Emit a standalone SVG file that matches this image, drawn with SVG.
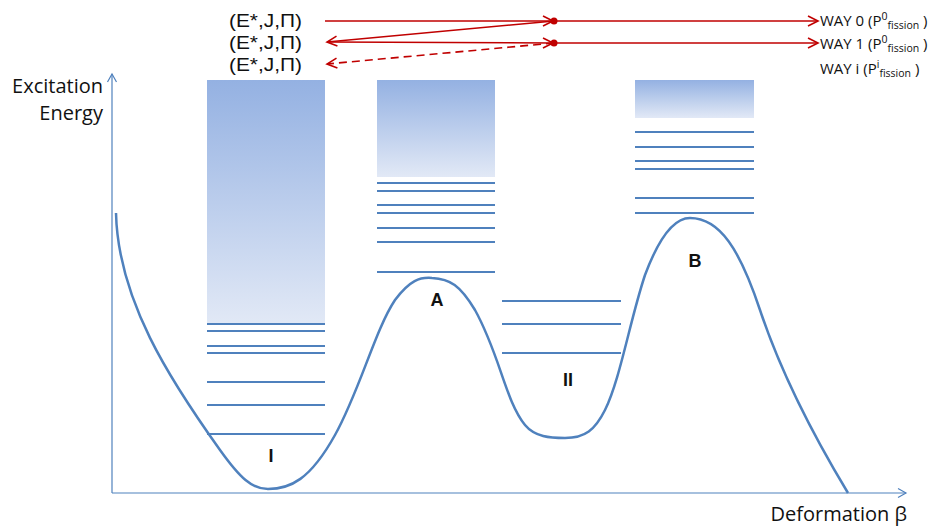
<svg xmlns="http://www.w3.org/2000/svg" width="932" height="526" viewBox="0 0 932 526">
<defs>
<linearGradient id="g" x1="0" y1="0" x2="0" y2="1">
<stop offset="0" stop-color="#94B1E2"/>
<stop offset="1" stop-color="#E2E9F6"/>
</linearGradient>
<marker id="ab" markerUnits="userSpaceOnUse" markerWidth="12" markerHeight="12" refX="9" refY="5" orient="auto" viewBox="0 0 12 10">
<path d="M1,0.5 L9,5 L1,9.5" fill="none" stroke="#4F81BD" stroke-width="1.2"/>
</marker>
<marker id="ar" markerUnits="userSpaceOnUse" markerWidth="14" markerHeight="14" refX="11" refY="6" orient="auto" viewBox="0 0 14 12">
<path d="M1,1 L11,6 L1,11" fill="none" stroke="#C00000" stroke-width="1.6"/>
</marker>
<style>
.lvl{stroke:#4F81BD;stroke-width:2;fill:none}
.red{stroke:#C00000;stroke-width:1.6;fill:none}
.t{font-family:"Open Sans","Liberation Sans",sans-serif;fill:#111}
.st{font-family:"Liberation Sans",sans-serif;font-size:18px;fill:#111}
.lab{font-family:"Liberation Sans",sans-serif;font-weight:bold;font-size:18px;fill:#111}
</style>
</defs>

<g id="axes">
<line x1="112" y1="493" x2="112" y2="74" stroke="#4F81BD" stroke-width="1.2" marker-end="url(#ab)"/>
<line x1="112" y1="493" x2="906" y2="493" stroke="#4F81BD" stroke-width="1.2" marker-end="url(#ab)"/>
<text class="t" x="103" y="93" font-size="20" text-anchor="end">Excitation</text>
<text class="t" x="103" y="120" font-size="20" text-anchor="end">Energy</text>
<text class="t" x="907" y="521" font-size="20" text-anchor="end">Deformation β</text>
</g>

<g id="well-I">
<rect x="207" y="80" width="118" height="245" fill="url(#g)"/>
<path class="lvl" d="M207,324H325M207,331H325M207,346H325M207,353H325M207,382H325M207,405H325M207,434H325"/>
<text class="lab" x="271" y="462" text-anchor="middle">I</text>
</g>

<g id="barrier-A">
<rect x="377" y="80" width="118" height="97" fill="url(#g)"/>
<path class="lvl" d="M377,183H495M377,191H495M377,205H495M377,213H495M377,228H495M377,242H495M377,272H495"/>
<text class="lab" x="437" y="306" text-anchor="middle">A</text>
</g>

<g id="well-II">
<path class="lvl" d="M502,301H621M502,324H621M502,353H621"/>
<text class="lab" x="568" y="386" text-anchor="middle">II</text>
</g>

<g id="barrier-B">
<rect x="635" y="80" width="119" height="38" fill="url(#g)"/>
<path class="lvl" d="M635,132H754M635,147H754M635,161H754M635,169H754M635,198H754M635,213H754"/>
<text class="lab" x="695" y="267" text-anchor="middle">B</text>
</g>

<g id="curve">
<path d="M116,213 C118,300 170,380 220,450 C240,478 252,489 268,489 C290,489 310,480 335,435 C360,390 375,330 395,300 C410,280 420,277 432,278 C450,279 460,285 475,310 C500,355 505,400 525,425 C535,437 550,438 565,438 C585,438 595,430 605,410 C620,380 630,320 645,275 C660,235 675,218 690,218 C720,218 740,250 760,310 C780,370 810,430 848,493" fill="none" stroke="#4F81BD" stroke-width="2.5"/>
</g>

<g id="states">
<text class="st" x="229" y="27" textLength="73" lengthAdjust="spacingAndGlyphs">(E*,J,Π)</text>
<text class="st" x="229" y="49" textLength="73" lengthAdjust="spacingAndGlyphs">(E*,J,Π)</text>
<text class="st" x="229" y="71" textLength="73" lengthAdjust="spacingAndGlyphs">(E*,J,Π)</text>
</g>

<g id="connectors">
<line class="red" x1="325" y1="21" x2="553" y2="21" marker-end="url(#ar)"/>
<line class="red" x1="554" y1="21" x2="818" y2="21" marker-end="url(#ar)"/>
<line class="red" x1="554" y1="21" x2="327" y2="42" marker-end="url(#ar)"/>
<line class="red" x1="327" y1="42" x2="553" y2="43" marker-end="url(#ar)"/>
<line class="red" x1="554" y1="43" x2="818" y2="43" marker-end="url(#ar)"/>
<line class="red" x1="554" y1="43" x2="327" y2="64" stroke-dasharray="8,5" marker-end="url(#ar)"/>
<circle cx="554" cy="21" r="3.5" fill="#C00000"/>
<circle cx="554" cy="43" r="3.5" fill="#C00000"/>
</g>

<g id="ways">
<text class="t" x="820" y="26" font-size="15">WAY 0 (P<tspan font-size="10.5" dy="-6">0</tspan><tspan font-size="10.5" dy="9">fission</tspan><tspan dy="-3"> )</tspan></text>
<text class="t" x="820" y="49" font-size="15">WAY 1 (P<tspan font-size="10.5" dy="-6">0</tspan><tspan font-size="10.5" dy="9">fission</tspan><tspan dy="-3"> )</tspan></text>
<text class="t" x="820" y="74" font-size="15">WAY i (P<tspan font-size="10.5" dy="-6">i</tspan><tspan font-size="10.5" dy="9">fission</tspan><tspan dy="-3"> )</tspan></text>
</g>
</svg>
